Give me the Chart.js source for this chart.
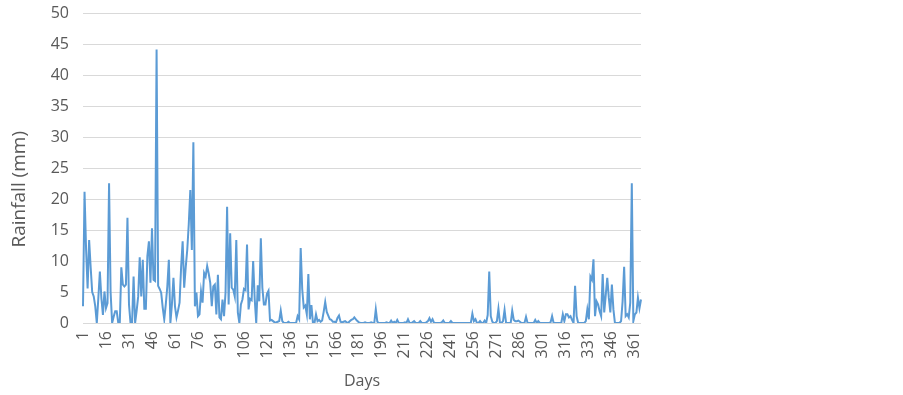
<!DOCTYPE html>
<html>
<head>
<meta charset="utf-8">
<script src="https://cdn.jsdelivr.net/npm/chart.js@4/dist/chart.umd.min.js"></script>
<style>
  html, body { margin: 0; padding: 0; background: #fff; overflow: hidden; }
  #wrap { width: 903px; height: 405px; position: relative; top: -10px; }
</style>
</head>
<body>
<div id="wrap"><canvas id="rainChart"></canvas></div>
<script>
// daily rainfall (mm)
const rainfall = [
  2.7, 21.2, 12, 5.6, 13.4, 9, 5, 4.3, 2.7, 0,
  4, 8.3, 4, 1.3, 5.1, 2.4, 3.2, 22.6, 5, 0,
  1, 1.9, 1.9, 0, 0, 9, 6.2, 5.9, 6.2, 17,
  3, 0, 0, 7.5, 0, 2, 4.3, 10.6, 4.3, 10.2,
  2.3, 2.3, 10.8, 13.2, 6.5, 15.3, 7, 6.8, 44.2, 6,
  5.5, 4.9, 2.5, 0.6, 3, 5.9, 10.2, 0, 3, 7.3,
  2.7, 0.9, 2, 3.3, 9, 13.2, 5.7, 9, 11.8, 16,
  21.5, 11.8, 29.2, 2.7, 4.9, 1.1, 1.4, 5.1, 3.3, 8.1,
  7.5, 9.2, 8, 6.5, 2.7, 5.9, 6.2, 1.4, 7.8, 0.9,
  0.6, 3.8, 1.1, 5, 18.8, 3, 14.5, 5.7, 5.4, 4.3,
  13.4, 1.7, 0, 3, 3.8, 5.5, 5.3, 12.7, 2.2, 3.9,
  3.7, 10, 3.9, 0, 6.1, 3.5, 13.7, 5.7, 3, 3,
  4.7, 5.2, 0.4, 0.5, 0.3, 0.1, 0.1, 0.2, 0.3, 2,
  0.3, 0, 0, 0, 0.2, 0, 0, 0, 0, 0,
  1.1, 0.6, 12.1, 5.5, 2.5, 2.8, 1.4, 7.9, 0.6, 2.9,
  0, 0, 1.4, 0.3, 0.5, 0.2, 0.4, 1.8, 3.4, 1.8,
  1.2, 0.6, 0.5, 0.2, 0.2, 0.1, 0.8, 1.2, 0.2, 0.1,
  0.2, 0.3, 0.1, 0, 0.3, 0.5, 0.6, 0.9, 0.6, 0.3,
  0.1, 0, 0, 0, 0.1, 0, 0, 0, 0.1, 0,
  0, 2.2, 0.2, 0, 0, 0, 0, 0, 0.1, 0,
  0, 0.4, 0, 0.2, 0, 0.5, 0, 0, 0, 0,
  0.1, 0, 0.6, 0, 0, 0.1, 0.3, 0, 0, 0,
  0.3, 0, 0, 0, 0.1, 0.3, 0.8, 0.2, 0.6, 0,
  0, 0, 0, 0, 0.1, 0.4, 0, 0, 0, 0,
  0.3, 0, 0, 0, 0, 0, 0, 0, 0, 0,
  0, 0, 0, 0, 1.5, 0.3, 0.6, 0, 0, 0.3,
  0, 0, 0.4, 0, 1.3, 8.3, 1.1, 0.2, 0, 0,
  0.3, 2.3, 0, 0, 0.3, 2.1, 0, 0, 0, 0,
  2, 0.5, 0.3, 0.3, 0.4, 0.2, 0, 0, 0, 1,
  0, 0, 0, 0, 0, 0.5, 0, 0.3, 0, 0,
  0, 0, 0, 0, 0, 0.1, 1.1, 0, 0, 0,
  0, 0, 0, 1.4, 0.3, 1.4, 1.4, 0.9, 1.1, 0.5,
  0, 6, 1.1, 0, 0, 0, 0, 0, 0.3, 2.2,
  0.6, 7.5, 7, 10.3, 1.1, 3.5, 3, 1.9, 1.1, 7.9,
  1.7, 4.5, 7.3, 4.1, 1.7, 6.2, 2.2, 0, 0, 0,
  0, 0.3, 3.5, 9.1, 1.1, 1.4, 0.9, 3.3, 22.6, 0.3,
  1.4, 1.7, 4.1, 2.4, 3.8
];

// day numbers 1..365 as categories, every 15th one is labelled
const days = rainfall.map((v, i) => String(i + 1));
const dayLabelStep = 15;
const yMin = 0;
const yMax = 50;
const yStep = 5;
const yTitle = 'Rainfall (mm)';

const textColor = '#595959';
const gridColor = '#d9d9d9';
const fontFamily = "'Open Sans', 'Liberation Sans', sans-serif";

// y title sits a bit below the plot centre in the original, so draw it ourselves
const yTitlePlugin = {
  id: 'yTitle',
  afterDraw(chart) {
    const c = chart.ctx;
    const area = chart.chartArea;
    c.save();
    c.translate(20, (area.top + area.bottom) / 2 + 21);
    c.rotate(-Math.PI / 2);
    c.fillStyle = textColor;
    c.font = '19px ' + fontFamily;
    c.textAlign = 'center';
    c.textBaseline = 'middle';
    c.fillText(yTitle, 0, 0);
    c.restore();
  }
};

const ctx = document.getElementById('rainChart').getContext('2d');

const rainChart = new Chart(ctx, {
  type: 'line',
  data: {
    labels: days,
    datasets: [{
      label: 'Rainfall',
      data: rainfall,
      borderColor: '#5b9bd5',
      borderWidth: 2,
      pointRadius: 0,
      tension: 0,
      fill: false
    }]
  },
  options: {
    responsive: true,
    maintainAspectRatio: false,
    animation: false,
    layout: {
      padding: { left: 8, right: 262, top: 2, bottom: 0 }
    },
    plugins: {
      legend: { display: false },
      tooltip: { enabled: false }
    },
    scales: {
      x: {
        offset: false,
        grid: { display: false, drawTicks: false },
        border: { display: false },
        ticks: {
          autoSkip: false,
          minRotation: 90,
          maxRotation: 90,
          padding: 8,
          color: textColor,
          font: { family: fontFamily, size: 16 },
          callback: function (value, index) {
            return index % dayLabelStep === 0 ? this.getLabelForValue(value) : '';
          }
        },
        title: {
          display: true,
          text: 'Days',
          color: textColor,
          font: { family: fontFamily, size: 16 },
          padding: { top: 4, bottom: 4 }
        },
        afterFit: function (scale) { scale.height = 72; }
      },
      y: {
        min: yMin,
        max: yMax,
        grid: { color: gridColor, lineWidth: 1, drawTicks: false },
        border: { display: false },
        ticks: {
          stepSize: yStep,
          padding: 14,
          color: textColor,
          font: { family: fontFamily, size: 16 }
        },
        afterFit: function (scale) { scale.width = 75; }
      }
    }
  },
  plugins: [yTitlePlugin]
});
</script>
</body>
</html>
